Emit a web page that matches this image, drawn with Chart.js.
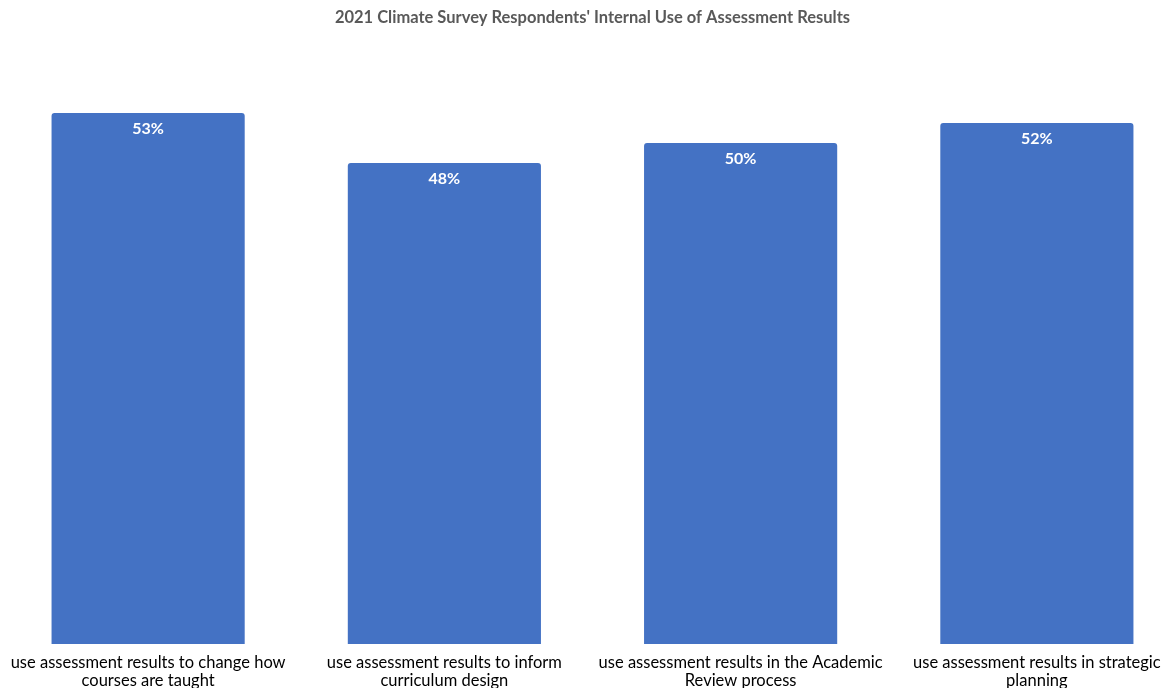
<!DOCTYPE html>
<html>
<head>
<meta charset="utf-8">
<style>
  html, body { margin: 0; padding: 0; background: #fff; overflow: hidden; }
  #usageChart { display: block; }
</style>
</head>
<body>
<canvas id="usageChart" width="1185" height="692"></canvas>

<script src="https://cdn.jsdelivr.net/npm/chart.js"></script>
<script>
  const categories = [
    ['use assessment results to change how', 'courses are taught'],
    ['use assessment results to inform', 'curriculum design'],
    ['use assessment results in the Academic', 'Review process'],
    ['use assessment results in strategic', 'planning']
  ];
  const percents = [53, 48, 50, 52];

  // white % label just inside the top of each bar
  const valueLabels = {
    id: 'valueLabels',
    afterDatasetsDraw(chart) {
      const ctx = chart.ctx;
      const meta = chart.getDatasetMeta(0);
      ctx.save();
      ctx.fillStyle = '#ffffff';
      ctx.font = 'bold 16px Lato';
      ctx.textAlign = 'center';
      ctx.textBaseline = 'middle';
      meta.data.forEach((bar, i) => {
        ctx.fillText(percents[i] + '%', bar.x, bar.y + 16);
      });
      ctx.restore();
    }
  };

  const ctx = document.getElementById('usageChart').getContext('2d');
  new Chart(ctx, {
    type: 'bar',
    data: {
      labels: categories,
      datasets: [{
        data: percents,
        backgroundColor: '#4472C4',
        borderRadius: { topLeft: 3, topRight: 3, bottomLeft: 0, bottomRight: 0 },
        borderSkipped: false,
        categoryPercentage: 1,
        barPercentage: 0.652
      }]
    },
    options: {
      responsive: false,
      animation: false,
      layout: { padding: 0 },
      plugins: {
        legend: { display: false },
        tooltip: { enabled: false },
        title: {
          display: true,
          text: "2021 Climate Survey Respondents' Internal Use of Assessment Results",
          color: '#595959',
          font: { family: 'Lato', size: 16.5, weight: 'bold' },
          padding: { top: 8, bottom: 15 }
        }
      },
      scales: {
        x: {
          grid: { display: false },
          border: { display: false },
          ticks: {
            color: '#000000',
            font: { family: 'Lato', size: 16.5, lineHeight: 1.09 },
            maxRotation: 0,
            autoSkip: false,
            padding: 2
          }
        },
        y: {
          display: false,
          min: 0,
          max: 60
        }
      }
    },
    plugins: [valueLabels]
  });
</script>
</body>
</html>
